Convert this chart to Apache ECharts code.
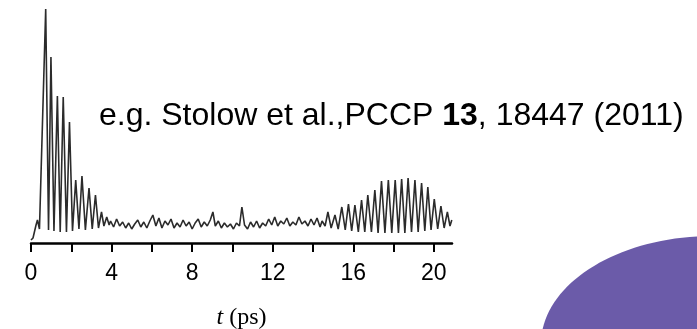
<!DOCTYPE html>
<html>
<head>
<meta charset="utf-8">
<script src="https://cdn.jsdelivr.net/npm/echarts@6/dist/echarts.min.js"></script>
<style>
html,body{margin:0;padding:0;background:#fff;}
#chart{width:697px;height:329px;}
</style>
</head>
<body>
<div id="chart"></div>
<script>
// time (ps), signal (arb. units)
const riseAndDecay = [
  [0.00,3],[0.10,5],[0.25,18],[0.32,23],[0.42,14],[0.73,234],[0.87,13],[0.99,186],[1.14,12],
  [1.31,147],[1.45,11],[1.60,146],[1.76,11],[1.91,121],[2.06,12],[2.22,63],[2.38,14],
  [2.53,67],[2.70,13],[2.88,55],[3.04,14],[3.20,48],[3.35,15],[3.50,31],[3.62,17],
  [3.76,26],[3.88,18]
];
const baseline = [
  [3.95,22],[4.10,16],[4.25,24],[4.40,17],[4.55,21],[4.70,15],[4.85,20],[5.00,14],
  [5.15,19],[5.30,23],[5.45,16],[5.60,21],[5.75,15],[5.90,22],[6.05,28],[6.20,17],
  [6.35,25],[6.50,15],[6.65,22],[6.80,18],[6.95,24],[7.10,15],[7.25,20],[7.40,16],
  [7.55,23],[7.70,17],[7.85,21],[8.00,14],[8.15,20],[8.30,24],[8.45,16],[8.60,21],
  [8.75,17],[8.90,23],[9.03,31],[9.15,17],[9.30,22],[9.45,15],[9.60,20],[9.75,16],
  [9.90,19],[10.05,14],[10.20,20],[10.35,17],[10.47,36],[10.60,18],[10.75,14],[10.90,21],
  [11.05,16],[11.20,22],[11.35,15],[11.50,20],[11.65,17],[11.80,24],[11.95,18],[12.10,26],
  [12.25,17],[12.40,22],[12.55,19],[12.70,25],[12.85,17],[13.00,21],[13.15,18],[13.30,26],
  [13.45,19],[13.60,22],[13.75,17],[13.90,24],[14.05,18],[14.20,25],[14.35,16]
];
const revival = [
  [14.45,22],[14.60,17],[14.74,31],[14.90,15],[15.09,28],[15.25,14],[15.43,36],[15.60,13],
  [15.76,39],[15.92,12],[16.08,38],[16.25,11],[16.41,43],[16.57,11],[16.72,48],[16.90,11],
  [17.07,53],[17.23,10],[17.40,62],[17.57,10],[17.74,63],[17.91,10],[18.08,63],[18.24,10],
  [18.40,64],[18.56,10],[18.72,65],[18.89,11],[19.06,63],[19.22,11],[19.39,60],[19.55,12],
  [19.70,56],[19.86,13],[20.02,44],[20.19,14],[20.35,37],[20.51,15],[20.67,31],[20.80,17],
  [20.89,23]
];
const minorTicks = [0,2,4,6,8,10,12,14,16,18,20];
const tickLabels = [0,4,8,12,16,20];
const citation = ['e.g. Stolow et al.,PCCP ', '13', ', 18447 (2011)'];

const trace = riseAndDecay.concat(baseline, revival);

const chart = echarts.init(document.getElementById('chart'), null, {renderer:'canvas'});
chart.setOption({
  animation:false,
  backgroundColor:'#fff',
  grid:{left:31, right:245, top:0, bottom:86, containLabel:false, outerBoundsMode:'none'},
  xAxis:{
    type:'value', min:0, max:20.9,
    axisLine:{show:true, lineStyle:{color:'#000', width:2.5}},
    axisTick:{show:true, customValues:minorTicks, length:9, lineStyle:{color:'#000', width:2}},
    axisLabel:{show:true, customValues:tickLabels, margin:19, color:'#000', fontSize:23, fontFamily:'Liberation Sans'},
    splitLine:{show:false},
    name:'{it|t} (ps)', nameLocation:'middle', nameGap:63,
    nameTextStyle:{fontFamily:'Liberation Serif', fontSize:24, color:'#000',
      rich:{it:{fontStyle:'italic', fontFamily:'Liberation Serif', fontSize:24, color:'#000'}}}
  },
  yAxis:{type:'value', min:0, max:243, show:false},
  series:[{
    type:'line', data:trace, showSymbol:false, smooth:false,
    lineStyle:{color:'#2b2b2b', width:1.6}
  }],
  graphic:[
    {type:'ellipse', shape:{cx:712, cy:344, rx:171, ry:108}, style:{fill:'#6b5ba9'}},
    {type:'text', x:99, y:116, style:{
      text:'{n|'+citation[0]+'}{b|'+citation[1]+'}{n|'+citation[2]+'}',
      verticalAlign:'middle', align:'left',
      rich:{
        n:{fontFamily:'Liberation Sans', fontSize:32, fill:'#000'},
        b:{fontFamily:'Liberation Sans', fontSize:32, fontWeight:'bold', fill:'#000'}
      }
    }}
  ]
});
</script>
</body>
</html>
